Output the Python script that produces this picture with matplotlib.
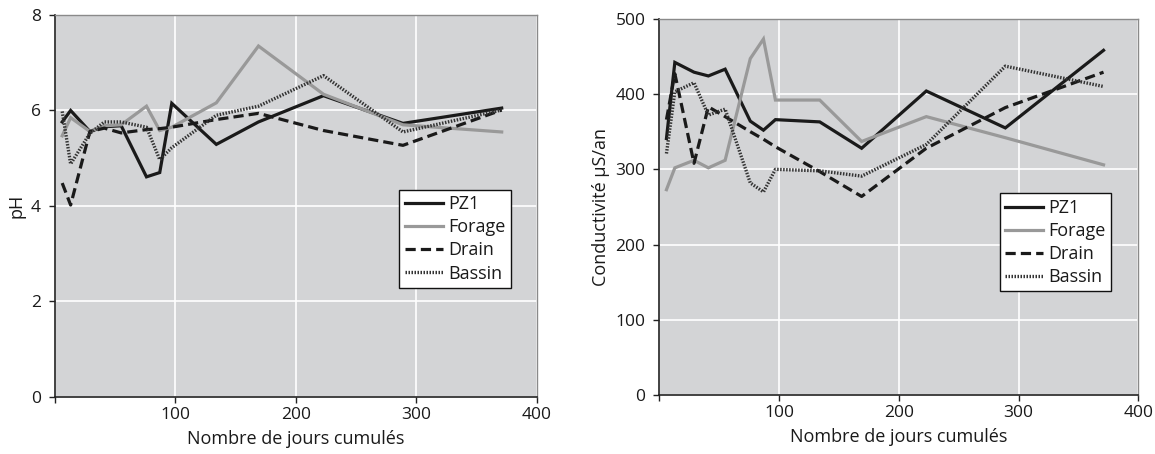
import matplotlib
matplotlib.use("Agg")
import matplotlib.pyplot as plt

plt.rcParams['font.family'] = ['Open Sans', 'DejaVu Sans']

# jours cumules (meme calendrier pour les deux graphes)
jours = [6, 13, 29, 41, 55, 76, 87, 97, 134, 169, 223, 289, 371]

# pH
ph_pz1 = [5.76, 6.00, 5.56, 5.66, 5.68, 4.61, 4.70, 6.15, 5.29, 5.76, 6.31, 5.73, 6.05]
ph_forage = [5.47, 5.85, 5.56, 5.68, 5.70, 6.09, 5.58, 5.65, 6.16, 7.35, 6.34, 5.70, 5.55]
ph_drain = [4.48, 4.02, 5.56, 5.63, 5.53, 5.60, 5.62, 5.65, 5.81, 5.94, 5.58, 5.27, 6.01]
ph_bassin = [5.98, 4.88, 5.52, 5.76, 5.76, 5.65, 4.97, 5.22, 5.90, 6.09, 6.73, 5.55, 6.01]

# conductivite
c_pz1 = [341, 442, 429, 424, 433, 364, 352, 366, 363, 328, 404, 355, 458]
c_forage = [273, 302, 312, 302, 312, 447, 473, 392, 392, 337, 370, 342, 306]
c_drain = [366, 427, 308, 383, 370, 350, 340, 330, 297, 264, 328, 382, 429]
c_bassin = [321, 403, 415, 372, 380, 282, 270, 300, 298, 291, 333, 437, 410]

noms = ["PZ1", "Forage", "Drain", "Bassin"]
styles = [
    dict(color="#1a1a1a", lw=2.3, ls="-"),
    dict(color="#999999", lw=2.3, ls="-"),
    dict(color="#1a1a1a", lw=2.3, ls=(0, (3.2, 1.6))),
    dict(color="#333333", lw=2.4, ls=(0, (0.45, 0.45))),
]
fond = "#d3d4d6"
encre = "#1a1a1a"

fig = plt.figure(figsize=(11.55, 4.54), dpi=100)
ax1 = fig.add_axes([0.0476, 0.1256, 0.417, 0.8414])
ax2 = fig.add_axes([0.5708, 0.1293, 0.4147, 0.8295])


def habiller(ax, series, yticks, ylabel, leg_xy):
    ax.set_facecolor(fond)
    for s, st, nom in zip(series, styles, noms):
        ax.plot(jours, s, label=nom, solid_joinstyle="miter", **st)
    ax.set_xlim(0, 400)
    ax.set_ylim(yticks[0], yticks[-1])
    ax.set_xticks([0, 100, 200, 300, 400])
    ax.set_xticklabels(["", "100", "200", "300", "400"])
    ax.set_yticks(yticks)
    ax.grid(True, color="white", lw=1.2)
    ax.set_axisbelow(True)
    for cote in ["top", "right"]:
        ax.spines[cote].set_color("#8a8a8a")
        ax.spines[cote].set_linewidth(1)
    for cote in ["left", "bottom"]:
        ax.spines[cote].set_color("#222222")
        ax.spines[cote].set_linewidth(1.2)
    ax.tick_params(direction="out", length=4, width=1, color="#222222",
                   labelsize=12.5, labelcolor=encre)
    ax.tick_params(axis="x", pad=3)
    ax.tick_params(axis="y", pad=6)
    ax.set_xlabel("Nombre de jours cumulés", fontsize=13, color=encre, labelpad=5)
    ax.set_ylabel(ylabel, fontsize=13, color=encre, labelpad=4)
    leg = ax.legend(loc="upper left", bbox_to_anchor=leg_xy, borderaxespad=0,
                    fontsize=13, frameon=True, fancybox=False, handlelength=2.1,
                    handletextpad=0.3, labelspacing=0.28, borderpad=0.3)
    leg.get_frame().set_edgecolor("#111111")
    leg.get_frame().set_linewidth(1)
    leg.get_frame().set_facecolor("white")
    leg.get_frame().set_alpha(1)
    for t in leg.get_texts():
        t.set_color(encre)


habiller(ax1, [ph_pz1, ph_forage, ph_drain, ph_bassin], [0, 2, 4, 6, 8], "pH", (0.715, 0.542))
habiller(ax2, [c_pz1, c_forage, c_drain, c_bassin], [0, 100, 200, 300, 400, 500],
         "Conductivité µS/an", (0.711, 0.536))

fig.savefig("out.png", dpi=100)
